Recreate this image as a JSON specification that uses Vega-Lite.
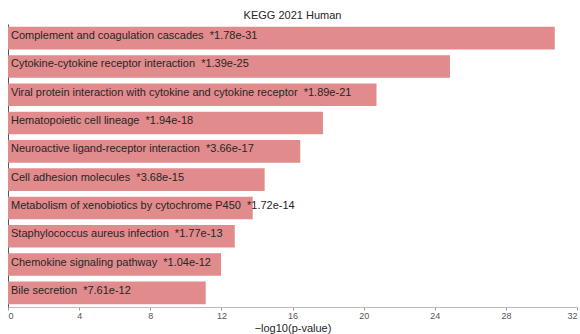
{
  "$schema": "https://vega.github.io/schema/vega-lite/v6.json",
  "autosize": "none",
  "width": 569,
  "height": 283,
  "padding": {"left": 8, "top": 24, "right": 3, "bottom": 27},
  "background": "white",
  "title": {
    "text": "KEGG 2021 Human",
    "font": "Liberation Sans",
    "fontSize": 11,
    "fontWeight": "normal",
    "color": "#262626",
    "anchor": "middle",
    "offset": 3
  },
  "config": {
    "view": {"stroke": null},
    "font": "Liberation Sans"
  },
  "data": {
    "values": [
      {"term": "Complement and coagulation cascades", "p": "1.78e-31", "score": 30.75},
      {"term": "Cytokine-cytokine receptor interaction", "p": "1.39e-25", "score": 24.857},
      {"term": "Viral protein interaction with cytokine and cytokine receptor", "p": "1.89e-21", "score": 20.724},
      {"term": "Hematopoietic cell lineage", "p": "1.94e-18", "score": 17.712},
      {"term": "Neuroactive ligand-receptor interaction", "p": "3.66e-17", "score": 16.437},
      {"term": "Cell adhesion molecules", "p": "3.68e-15", "score": 14.434},
      {"term": "Metabolism of xenobiotics by cytochrome P450", "p": "1.72e-14", "score": 13.764},
      {"term": "Staphylococcus aureus infection", "p": "1.77e-13", "score": 12.752},
      {"term": "Chemokine signaling pathway", "p": "1.04e-12", "score": 11.983},
      {"term": "Bile secretion", "p": "7.61e-12", "score": 11.119}
    ]
  },
  "encoding": {
    "y": {
      "field": "term",
      "type": "nominal",
      "sort": null,
      "scale": {"paddingInner": 0.2, "paddingOuter": 0.1},
      "axis": {
        "title": null,
        "labels": false,
        "ticks": false,
        "domainColor": "#555555",
        "domainWidth": 1
      }
    }
  },
  "layer": [
    {
      "mark": {"type": "bar", "color": "#e18b8c"},
      "encoding": {
        "x": {
          "field": "score",
          "type": "quantitative",
          "scale": {"domain": [0, 32], "nice": false},
          "axis": {
            "title": "−log10(p-value)",
            "titleFont": "Liberation Sans",
            "titleFontSize": 11,
            "titleFontWeight": "normal",
            "titleColor": "#262626",
            "titlePadding": 2,
            "values": [0, 4, 8, 12, 16, 20, 24, 28, 32],
            "labelFontSize": 9,
            "labelColor": "#555555",
            "labelPadding": 1,
            "tickSize": 3,
            "tickColor": "#999999",
            "domainColor": "#bbbbbb",
            "grid": false
          }
        }
      }
    },
    {
      "mark": {
        "type": "text",
        "align": "left",
        "baseline": "middle",
        "dx": 3,
        "dy": -2,
        "fontSize": 11,
        "font": "Liberation Sans",
        "color": "#262626"
      },
      "encoding": {
        "x": {"datum": 0, "type": "quantitative"},
        "text": {"value": {"expr": "datum.term + '\u00a0\u00a0*' + datum.p"}}
      }
    }
  ]
}
